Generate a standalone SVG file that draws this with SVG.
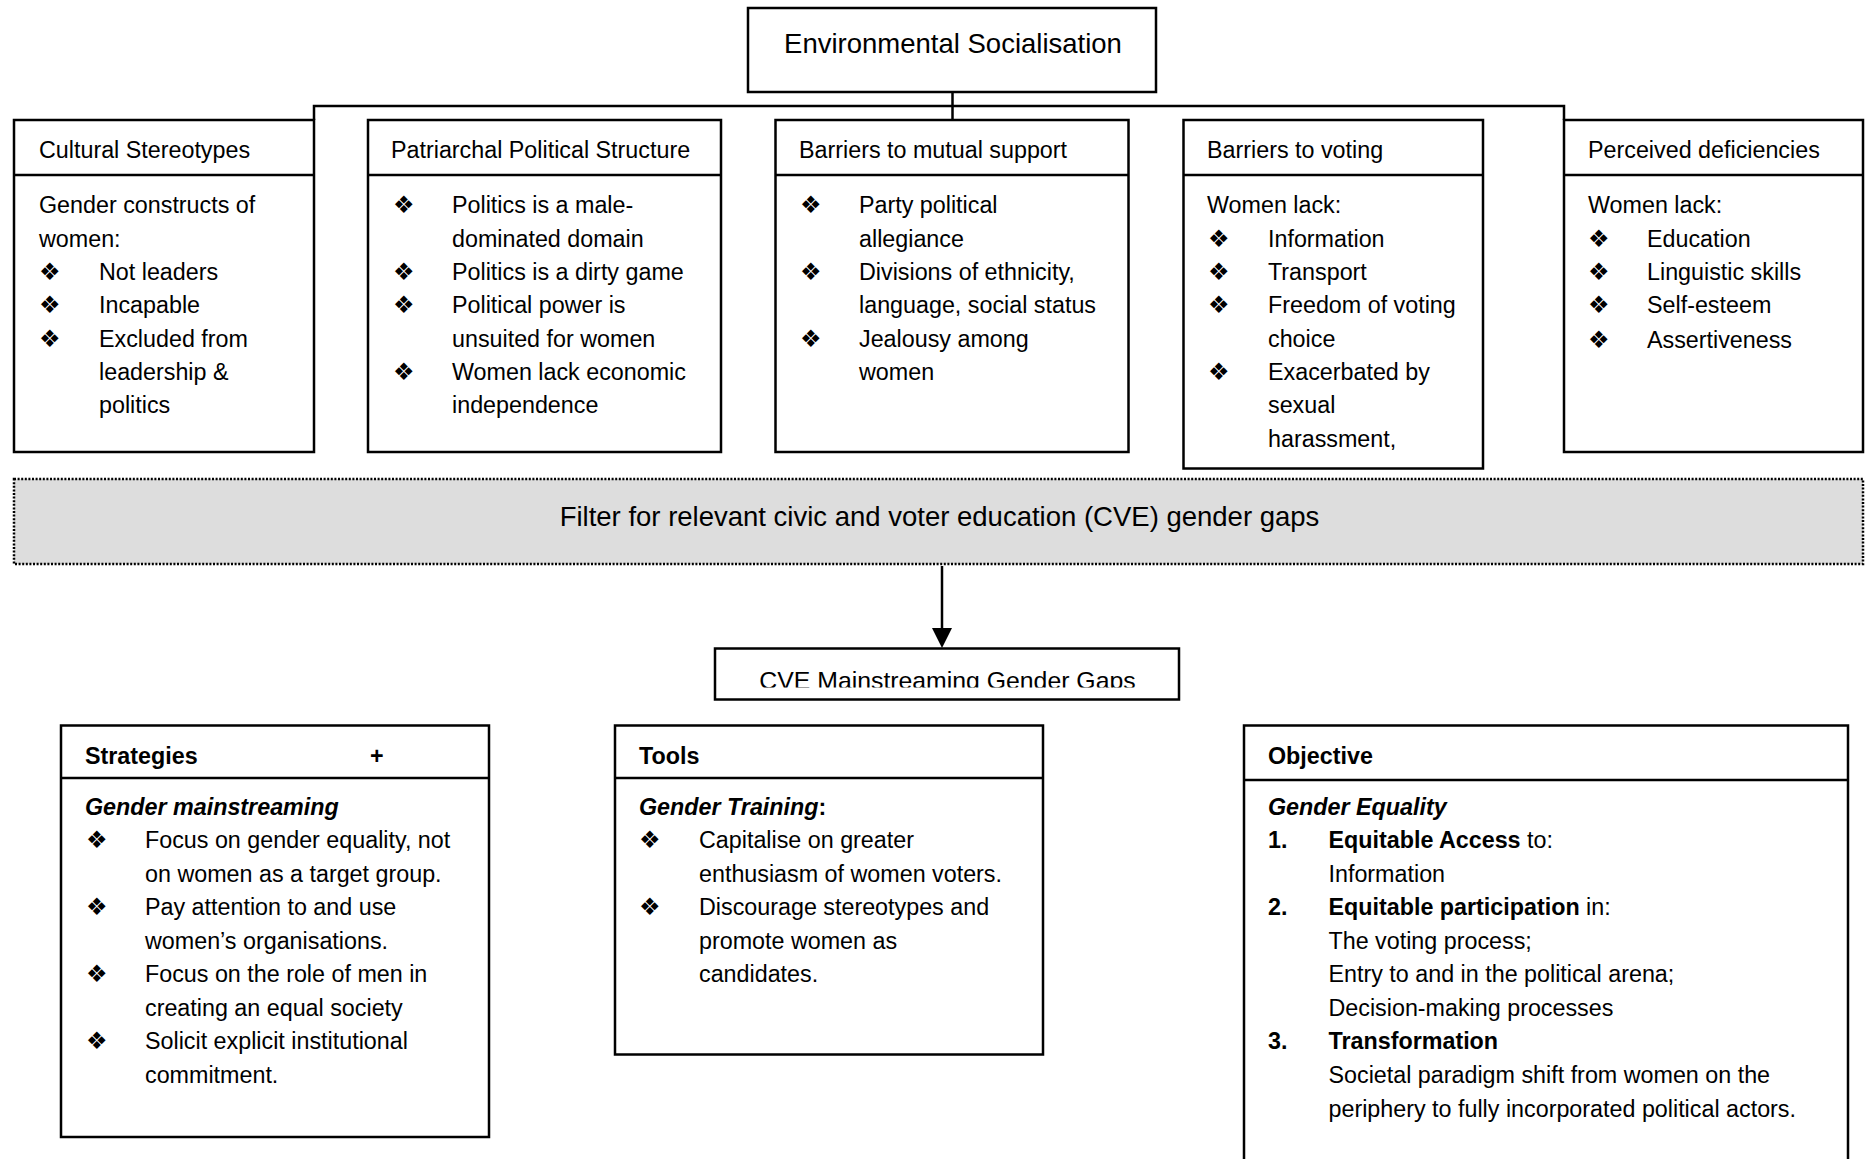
<svg xmlns="http://www.w3.org/2000/svg" width="1865" height="1159" viewBox="0 0 1865 1159">
<style>
.box{fill:#fff;stroke:#000;stroke-width:2.5}
.div{stroke:#000;stroke-width:2.5}
.t{font-family:"Liberation Sans",Arial,sans-serif;font-size:23.3px;fill:#000}
.big{font-size:27.5px}
.b{font-weight:bold}
.bi{font-weight:bold;font-style:italic}
.bul{font-family:"DejaVu Sans",sans-serif;font-size:24px;fill:#000}
.conn{stroke:#000;stroke-width:2.5;fill:none}
.filter{fill:#dddddd;stroke:#000;stroke-width:2.5;stroke-dasharray:2 1.6}
</style>
<defs>
<marker id="arrow" viewBox="0 0 20 20" refX="4" refY="10" markerWidth="20" markerHeight="20" markerUnits="userSpaceOnUse" orient="auto">
<path d="M0,0 L20,10 L0,20 z" fill="#000"/>
</marker>
<clipPath id="cveclip"><rect x="715" y="648" width="464" height="39.5"/></clipPath>
</defs>
<rect width="1865" height="1159" fill="#fff"/>

<g id="connectors">
<path class="conn" d="M314 120 V106 H1564 V120"/>
<path class="conn" d="M952.5 92 V120"/>
<path class="conn" d="M942 566 V632" marker-end="url(#arrow)"/>
</g>

<g id="env-socialisation">
<rect class="box" x="748" y="8" width="408" height="84"/>
<text class="t big" x="953" y="53" text-anchor="middle">Environmental Socialisation</text>
</g>

<g id="cultural-stereotypes">
<rect class="box" x="14" y="120" width="300" height="332"/>
<line class="div" x1="14" y1="175" x2="314" y2="175"/>
<text class="t" x="39" y="158">Cultural Stereotypes</text>
<text class="t" x="39" y="213">Gender constructs of</text>
<text class="t" x="39" y="246.5">women:</text>
<text class="bul" x="39" y="280">❖</text>
<text class="bul" x="39" y="313">❖</text>
<text class="bul" x="39" y="346.5">❖</text>
<text class="t" x="99" y="280">Not leaders</text>
<text class="t" x="99" y="313">Incapable</text>
<text class="t" x="99" y="346.5">Excluded from</text>
<text class="t" x="99" y="380">leadership &amp;</text>
<text class="t" x="99" y="413">politics</text>
</g>

<g id="patriarchal-structure">
<rect class="box" x="368" y="120" width="353" height="332"/>
<line class="div" x1="368" y1="175" x2="721" y2="175"/>
<text class="t" x="391" y="158">Patriarchal Political Structure</text>
<text class="bul" x="393" y="213">❖</text>
<text class="bul" x="393" y="280">❖</text>
<text class="bul" x="393" y="313">❖</text>
<text class="bul" x="393" y="380">❖</text>
<text class="t" x="452" y="213">Politics is a male-</text>
<text class="t" x="452" y="246.5">dominated domain</text>
<text class="t" x="452" y="280">Politics is a dirty game</text>
<text class="t" x="452" y="313">Political power is</text>
<text class="t" x="452" y="346.5">unsuited for women</text>
<text class="t" x="452" y="380">Women lack economic</text>
<text class="t" x="452" y="413">independence</text>
</g>

<g id="barriers-mutual-support">
<rect class="box" x="775.5" y="120" width="353" height="332"/>
<line class="div" x1="775.5" y1="175" x2="1128.5" y2="175"/>
<text class="t" x="799" y="158">Barriers to mutual support</text>
<text class="bul" x="800" y="213">❖</text>
<text class="bul" x="800" y="280">❖</text>
<text class="bul" x="800" y="346.5">❖</text>
<text class="t" x="859" y="213">Party political</text>
<text class="t" x="859" y="246.5">allegiance</text>
<text class="t" x="859" y="280">Divisions of ethnicity,</text>
<text class="t" x="859" y="313">language, social status</text>
<text class="t" x="859" y="346.5">Jealousy among</text>
<text class="t" x="859" y="380">women</text>
</g>

<g id="barriers-voting">
<rect class="box" x="1183.5" y="120" width="299.5" height="348.5"/>
<line class="div" x1="1183.5" y1="175" x2="1483" y2="175"/>
<text class="t" x="1207" y="158">Barriers to voting</text>
<text class="t" x="1207" y="213">Women lack:</text>
<text class="bul" x="1208" y="246.5">❖</text>
<text class="bul" x="1208" y="280">❖</text>
<text class="bul" x="1208" y="313">❖</text>
<text class="bul" x="1208" y="380">❖</text>
<text class="t" x="1268" y="246.5">Information</text>
<text class="t" x="1268" y="280">Transport</text>
<text class="t" x="1268" y="313">Freedom of voting</text>
<text class="t" x="1268" y="346.5">choice</text>
<text class="t" x="1268" y="380">Exacerbated by</text>
<text class="t" x="1268" y="413">sexual</text>
<text class="t" x="1268" y="446.5">harassment,</text>
</g>

<g id="perceived-deficiencies">
<rect class="box" x="1564" y="120" width="299" height="332"/>
<line class="div" x1="1564" y1="175" x2="1863" y2="175"/>
<text class="t" x="1588" y="158">Perceived deficiencies</text>
<text class="t" x="1588" y="213">Women lack:</text>
<text class="bul" x="1588" y="246.5">❖</text>
<text class="bul" x="1588" y="280">❖</text>
<text class="bul" x="1588" y="313">❖</text>
<text class="bul" x="1588" y="348">❖</text>
<text class="t" x="1647" y="246.5">Education</text>
<text class="t" x="1647" y="280">Linguistic skills</text>
<text class="t" x="1647" y="313">Self-esteem</text>
<text class="t" x="1647" y="348">Assertiveness</text>
</g>

<g id="filter">
<rect class="filter" x="14" y="479" width="1849" height="85"/>
<text class="t big" x="939.5" y="526" text-anchor="middle">Filter for relevant civic and voter education (CVE) gender gaps</text>
</g>

<g id="cve-mainstreaming">
<rect class="box" x="715" y="648.5" width="464" height="51"/>
<text class="t" style="font-size:24.8px" x="947.5" y="689" text-anchor="middle" clip-path="url(#cveclip)">CVE Mainstreaming Gender Gaps</text>
</g>

<g id="strategies">
<rect class="box" x="61" y="725.5" width="428" height="411.5"/>
<line class="div" x1="61" y1="778" x2="489" y2="778"/>
<text class="t b" x="85" y="763.5">Strategies</text>
<text class="t b" x="370" y="763.5">+</text>
<text class="t bi" x="85" y="815">Gender mainstreaming</text>
<text class="bul" x="86" y="848">❖</text>
<text class="bul" x="86" y="915">❖</text>
<text class="bul" x="86" y="982">❖</text>
<text class="bul" x="86" y="1049">❖</text>
<text class="t" x="145" y="848">Focus on gender equality, not</text>
<text class="t" x="145" y="881.5">on women as a target group.</text>
<text class="t" x="145" y="915">Pay attention to and use</text>
<text class="t" x="145" y="948.5">women’s organisations.</text>
<text class="t" x="145" y="982">Focus on the role of men in</text>
<text class="t" x="145" y="1015.5">creating an equal society</text>
<text class="t" x="145" y="1049">Solicit explicit institutional</text>
<text class="t" x="145" y="1082.5">commitment.</text>
</g>

<g id="tools">
<rect class="box" x="615" y="725.5" width="428" height="329"/>
<line class="div" x1="615" y1="778" x2="1043" y2="778"/>
<text class="t b" x="639" y="763.5">Tools</text>
<text class="t b" x="639" y="815"><tspan font-style="italic">Gender Training</tspan>:</text>
<text class="bul" x="639" y="848">❖</text>
<text class="bul" x="639" y="915">❖</text>
<text class="t" x="699" y="848">Capitalise on greater</text>
<text class="t" x="699" y="881.5">enthusiasm of women voters.</text>
<text class="t" x="699" y="915">Discourage stereotypes and</text>
<text class="t" x="699" y="948.5">promote women as</text>
<text class="t" x="699" y="982">candidates.</text>
</g>

<g id="objective">
<rect class="box" x="1244" y="725.5" width="604" height="460"/>
<line class="div" x1="1244" y1="780" x2="1848" y2="780"/>
<text class="t b" x="1268" y="763.5">Objective</text>
<text class="t bi" x="1268" y="815">Gender Equality</text>
<text class="t b" x="1268" y="848">1.</text>
<text class="t" x="1328.5" y="848"><tspan font-weight="bold">Equitable Access</tspan> to:</text>
<text class="t" x="1328.5" y="881.5">Information</text>
<text class="t b" x="1268" y="915">2.</text>
<text class="t" x="1328.5" y="915"><tspan font-weight="bold">Equitable participation</tspan> in:</text>
<text class="t" x="1328.5" y="948.5">The voting process;</text>
<text class="t" x="1328.5" y="982">Entry to and in the political arena;</text>
<text class="t" x="1328.5" y="1015.5">Decision-making processes</text>
<text class="t b" x="1268" y="1049">3.</text>
<text class="t b" x="1328.5" y="1049">Transformation</text>
<text class="t" x="1328.5" y="1083">Societal paradigm shift from women on the</text>
<text class="t" x="1328.5" y="1117">periphery to fully incorporated political actors.</text>
</g>
</svg>
